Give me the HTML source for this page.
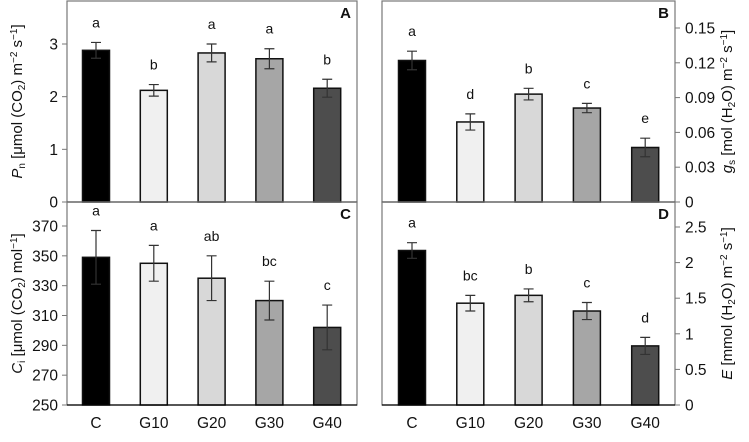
<!DOCTYPE html>
<html><head><meta charset="utf-8"><style>
body{margin:0;background:#fff}
svg text{font-family:"Liberation Sans",Arial,sans-serif;fill:#111}
</style></head><body>
<svg id="chart" width="749" height="437" xmlns="http://www.w3.org/2000/svg"></svg>
<script>
const categories=["C","G10","G20","G30","G40"];
const pnValues=[2.88,2.12,2.83,2.72,2.16];
const pnErrors=[0.15,0.11,0.17,0.19,0.17];
const pnLetters=["a","b","a","a","b"];
const gsValues=[0.122,0.069,0.093,0.081,0.047];
const gsErrors=[0.008,0.007,0.005,0.004,0.008];
const gsLetters=["a","d","b","c","e"];
const ciValues=[349,345,335,320,302];
const ciErrors=[18,12,15,13,15];
const ciLetters=["a","a","ab","bc","c"];
const eValues=[2.17,1.43,1.54,1.32,0.83];
const eErrors=[0.11,0.11,0.09,0.12,0.12];
const eLetters=["a","bc","b","c","d"];
const pnTicks=[0,1,2,3];
const gsTicks=["0","0.03","0.06","0.09","0.12","0.15"];
const ciTicks=[250,270,290,310,330,350,370];
const eTicks=["0","0.5","1","1.5","2","2.5"];
const fills=["#000000","#f0f0f0","#d8d8d8","#a6a6a6","#4d4d4d"];

const svg=document.getElementById('chart');
const NS="http://www.w3.org/2000/svg";
function mk(tag,attrs,parent){const e=document.createElementNS(NS,tag);for(const k in attrs)e.setAttribute(k,attrs[k]);(parent||svg).appendChild(e);return e;}

function panel(opt){
  const g=mk('g',{});
  
  
  const x0=opt.x0,x1=opt.x1,yTop=opt.yTop,yBot=opt.yBot;
  const Y=v=>opt.pyBot-(v-opt.min)/(opt.max-opt.min)*(opt.pyBot-opt.pyTop);
  const X=i=>x0+opt.first+i*opt.step;
  const fr=mk('rect',{x:x0,y:yTop,width:x1-x0,height:yBot-yTop,fill:'none',stroke:'#777','stroke-width':1.2},g);
  
  
  opt.ticks.forEach(t=>{
    const v=parseFloat(t),y=Y(v);
    const tx=opt.right?x1:x0;
    mk('line',{x1:tx,x2:opt.right?tx+5:tx-5,y1:y,y2:y,stroke:'#777'},g);
    const lbl=mk('text',{x:opt.right?tx+10:tx-9,y:y+5.5,'font-size':15.5,'text-anchor':opt.right?'start':'end'},g);
    lbl.textContent=t;
    
    
  });
  opt.values.forEach((v,i)=>{
    const cx=X(i),w=27;
    const b=mk('rect',{x:cx-w/2,y:Y(v),width:w,height:opt.pyBot-Y(v),fill:fills[i],stroke:'#111','stroke-width':1.5},g);
    
    
    const e=opt.errors[i],yt=Y(v+e),yb=Y(v-e);
    const eb=mk('path',{d:`M${cx},${yt}V${yb}M${cx-5},${yt}H${cx+5}M${cx-5},${yb}H${cx+5}`,stroke:'#333','stroke-width':1.2,fill:'none'},g);
    
    
    const l=mk('text',{x:cx,y:yt-15,'font-size':14,'text-anchor':'middle'},g);
    l.textContent=opt.letters[i];
    
    
  });
  const ax=mk('line',{x1:x0,x2:x1,y1:yBot,y2:yBot,stroke:'#000','stroke-width':1.3},g);
  
  
  const pl=mk('text',{x:x1-6,y:yTop+17,'font-size':15,'font-weight':'bold','text-anchor':'end'},g);
  pl.textContent=opt.label;
  
  
  if(opt.xlabels){
    categories.forEach((c,i)=>{
      const t=mk('text',{x:X(i),y:428,'font-size':15.5,'text-anchor':'middle'},g);
      t.textContent=c;
      
      
    });
  }
  const tx=opt.right?732:22, ty=(yTop+yBot)/2;
  const at=mk('text',{x:tx,y:ty,'font-size':15,'text-anchor':'middle',transform:`rotate(-90 ${tx} ${ty})`},g);
  at.innerHTML=opt.title;
  
  
}
panel({name:'panel-a-pn',label:'A',x0:67,x1:357,yTop:1,yBot:202,min:0,max:3,pyTop:44,pyBot:202,first:29,step:57.8,ticks:pnTicks.map(String),values:pnValues,errors:pnErrors,letters:pnLetters,
 title:'<tspan font-style="italic">P</tspan><tspan font-size="10" dy="3">n</tspan><tspan dy="-3"> [μmol (CO</tspan><tspan font-size="10" dy="3">2</tspan><tspan dy="-3">) m</tspan><tspan font-size="10" dy="-5">−2</tspan><tspan dy="5"> s</tspan><tspan font-size="10" dy="-5">−1</tspan><tspan dy="5">]</tspan>'});
panel({name:'panel-b-gs',label:'B',right:true,x0:382,x1:675,yTop:1,yBot:202,min:0,max:0.15,pyTop:28,pyBot:202,first:30,step:58.3,ticks:gsTicks,values:gsValues,errors:gsErrors,letters:gsLetters,
 title:'<tspan font-style="italic">g</tspan><tspan font-size="10" dy="3">s</tspan><tspan dy="-3"> [mol (H</tspan><tspan font-size="10" dy="3">2</tspan><tspan dy="-3">O) m</tspan><tspan font-size="10" dy="-5">−2</tspan><tspan dy="5"> s</tspan><tspan font-size="10" dy="-5">−1</tspan><tspan dy="5">]</tspan>'});
panel({name:'panel-c-ci',label:'C',xlabels:true,x0:67,x1:357,yTop:202,yBot:405,min:250,max:370,pyTop:226,pyBot:405,first:29,step:57.8,ticks:ciTicks.map(String),values:ciValues,errors:ciErrors,letters:ciLetters,
 title:'<tspan font-style="italic">C</tspan><tspan font-size="10" dy="3">i</tspan><tspan dy="-3"> [μmol (CO</tspan><tspan font-size="10" dy="3">2</tspan><tspan dy="-3">) mol</tspan><tspan font-size="10" dy="-5">−1</tspan><tspan dy="5">]</tspan>'});
panel({name:'panel-d-e',label:'D',right:true,xlabels:true,x0:382,x1:675,yTop:202,yBot:405,min:0,max:2.5,pyTop:227,pyBot:405,first:30,step:58.3,ticks:eTicks,values:eValues,errors:eErrors,letters:eLetters,
 title:'<tspan font-style="italic">E</tspan><tspan> [mmol (H</tspan><tspan font-size="10" dy="3">2</tspan><tspan dy="-3">O) m</tspan><tspan font-size="10" dy="-5">−2</tspan><tspan dy="5"> s</tspan><tspan font-size="10" dy="-5">−1</tspan><tspan dy="5">]</tspan>'});
</script>
</body></html>
